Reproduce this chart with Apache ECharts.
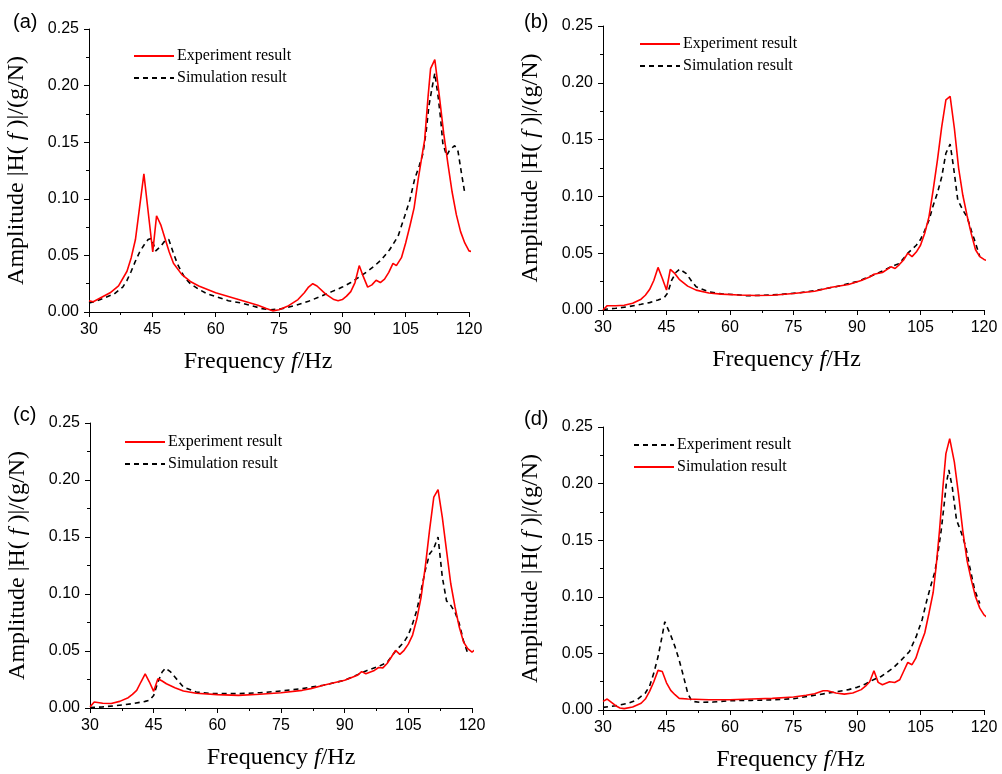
<!DOCTYPE html>
<html>
<head>
<meta charset="utf-8">
<script src="https://cdn.jsdelivr.net/npm/echarts@6/dist/echarts.min.js"></script>
<style>
  html, body { margin: 0; padding: 0; background: #fff; }
  #chart { width: 1002px; height: 774px; }
</style>
</head>
<body>
<div id="chart"></div>
<script>
// frequency (Hz) / amplitude pairs
const aExp = [[30,0.010],[31,0.009],[33,0.013],[35,0.017],[37,0.023],[39,0.036],[40,0.048],[41,0.064],[42,0.093],[43,0.122],[44,0.089],[45.1,0.053],[46,0.085],[47,0.077],[48,0.065],[49,0.053],[50,0.043],[52,0.033],[54,0.027],[56,0.023],[60,0.017],[65,0.0115],[70,0.006],[72,0.003],[73.5,0.001],[75,0.002],[77,0.005],[79.5,0.011],[81,0.017],[82,0.022],[83,0.025],[84,0.023],[86,0.016],[88,0.011],[89,0.010],[90,0.011],[91,0.014],[92,0.018],[93,0.026],[94,0.041],[95,0.031],[96,0.022],[97,0.024],[98,0.028],[99,0.026],[100,0.029],[101,0.035],[102,0.043],[102.8,0.041],[104,0.048],[105,0.061],[106,0.076],[107,0.092],[108,0.118],[109,0.141],[109.5,0.152],[110.3,0.190],[110.9,0.215],[111.9,0.223],[113,0.190],[114,0.158],[115,0.131],[116,0.106],[117,0.086],[118,0.071],[119,0.061],[120,0.054],[121,0.053]];
const aSim = [[30,0.008],[32,0.010],[34,0.013],[36,0.016],[38,0.022],[39,0.028],[40,0.036],[41,0.045],[42,0.053],[43,0.059],[44,0.064],[44.8,0.065],[45.8,0.054],[47,0.058],[48,0.063],[48.9,0.064],[50,0.052],[51,0.042],[52.7,0.030],[54,0.025],[56,0.020],[58,0.016],[60.5,0.013],[63,0.010],[66,0.008],[69,0.005],[71,0.003],[73,0.002],[75,0.0025],[76.5,0.0035],[79,0.006],[82,0.0095],[85,0.014],[87.5,0.018],[90,0.022],[92,0.026],[94,0.031],[96,0.036],[98,0.042],[99.2,0.046],[101.2,0.055],[103.2,0.067],[104.8,0.085],[106,0.099],[107.1,0.117],[108.2,0.129],[109.1,0.140],[109.9,0.161],[110.5,0.182],[111.3,0.199],[111.9,0.211],[112.7,0.190],[113.3,0.170],[113.8,0.149],[114.7,0.138],[115.4,0.143],[116.6,0.147],[117.4,0.142],[118.2,0.123],[119,0.105]];

const bExp = [[30,0.000],[31,0.0038],[33,0.0038],[35,0.0042],[37,0.006],[39,0.0095],[40,0.013],[41,0.018],[42,0.026],[43,0.0375],[44,0.028],[45,0.0176],[45.9,0.0358],[47,0.032],[48,0.027],[50,0.021],[52,0.0175],[55,0.015],[58,0.014],[62,0.0132],[66,0.0127],[70,0.013],[75,0.0145],[80,0.0165],[84,0.020],[88,0.0225],[91,0.026],[93,0.029],[94,0.0315],[96,0.033],[98,0.038],[99,0.0365],[100,0.040],[101,0.044],[102,0.050],[103,0.047],[104,0.051],[105,0.057],[106,0.0675],[107,0.082],[108,0.106],[109,0.132],[110,0.161],[111,0.185],[112,0.188],[113,0.160],[114,0.125],[115,0.101],[116,0.083],[117,0.067],[118,0.053],[119,0.047],[120,0.0445],[121,0.043]];
const bSim = [[30,0.0005],[33,0.0015],[36,0.003],[39,0.005],[41,0.0065],[43,0.0088],[44.5,0.011],[45.3,0.015],[46.2,0.026],[47.2,0.033],[48.1,0.036],[49.7,0.032],[51,0.025],[52,0.0205],[55,0.016],[58,0.0142],[61,0.0136],[64,0.0125],[68,0.013],[72,0.0137],[76,0.015],[80,0.017],[85,0.0205],[90,0.025],[95,0.0325],[98,0.038],[100,0.041],[102,0.050],[104,0.057],[105,0.062],[106,0.070],[107,0.079],[108,0.092],[109,0.103],[110,0.117],[111,0.138],[112,0.146],[112.8,0.126],[113.8,0.097],[115,0.088],[116,0.082],[117,0.070],[118,0.059],[119,0.047]];

const cExp = [[30,0.001],[31,0.0053],[33,0.0042],[35,0.004],[37,0.0058],[39,0.009],[40,0.012],[41,0.0155],[42,0.0228],[43,0.030],[44,0.0228],[45,0.0146],[46,0.0257],[47,0.0237],[48,0.0213],[50,0.0178],[52,0.0149],[55,0.0129],[60,0.0117],[65,0.0111],[70,0.012],[75,0.0134],[80,0.0155],[82,0.017],[85,0.020],[90,0.0243],[93,0.0287],[94,0.0319],[95,0.0301],[97,0.033],[98,0.0355],[99,0.0352],[100,0.039],[101,0.0447],[102,0.0506],[103,0.047],[104,0.0506],[105,0.056],[106,0.064],[107,0.078],[108,0.097],[109,0.124],[110,0.156],[111,0.185],[111.3,0.187],[112,0.1915],[113,0.1675],[114,0.138],[115,0.109],[116,0.0886],[117,0.071],[118,0.058],[119,0.052],[120,0.049],[121,0.052]];
const cSim = [[30,0.0003],[33,0.001],[36,0.002],[40,0.0038],[43,0.0058],[44,0.0067],[45,0.011],[46,0.0228],[47,0.0316],[47.8,0.035],[49,0.0316],[50,0.0272],[52,0.0184],[55,0.014],[58,0.0129],[60,0.0126],[65,0.0126],[70,0.0134],[75,0.0149],[80,0.017],[85,0.020],[90,0.0243],[95,0.0325],[98,0.0365],[100,0.040],[102,0.050],[104,0.058],[105,0.064],[106,0.074],[107,0.0857],[108,0.103],[109,0.121],[110,0.135],[111,0.140],[112,0.150],[113,0.115],[114,0.094],[115,0.090],[116,0.084],[117,0.074],[118,0.059],[119,0.048]];

// panel (d): experiment is the dashed curve, simulation the red one
const dExp = [[30,0.0023],[33,0.0038],[36,0.006],[38,0.009],[40,0.015],[41,0.021],[42,0.0326],[43,0.047],[44,0.066],[44.6,0.078],[45,0.0767],[46,0.066],[47,0.056],[48,0.044],[49,0.030],[50,0.015],[51,0.0076],[53,0.0068],[56,0.007],[60,0.0082],[65,0.0085],[70,0.009],[75,0.010],[80,0.013],[85,0.016],[88,0.018],[90,0.020],[92,0.023],[94,0.027],[95.7,0.0296],[98.5,0.037],[100.5,0.0443],[102.4,0.0517],[104,0.065],[105.4,0.080],[106.5,0.097],[107.6,0.112],[108.4,0.122],[109.1,0.138],[109.9,0.159],[110.6,0.182],[111.1,0.200],[111.7,0.212],[112.5,0.197],[113.5,0.168],[114.7,0.156],[115.7,0.144],[116.6,0.127],[117.8,0.106],[119,0.094]];
const dSim = [[30,0.0076],[31,0.0097],[32,0.0068],[33,0.0038],[34,0.0018],[35,0.0012],[37,0.0026],[39,0.006],[40,0.0097],[41,0.0165],[42,0.025],[43,0.035],[44,0.034],[45,0.024],[46,0.0173],[47,0.0135],[48,0.0103],[50,0.0097],[55,0.0091],[60,0.0091],[65,0.0097],[70,0.0103],[75,0.0115],[78,0.013],[80,0.0144],[82,0.017],[83,0.017],[85,0.015],[87,0.014],[89,0.015],[91,0.018],[92,0.021],[93,0.025],[94,0.0347],[95,0.0244],[96,0.0223],[97.7,0.025],[98.9,0.0243],[100.1,0.0267],[101,0.034],[102,0.042],[103,0.040],[103.9,0.0458],[104.8,0.056],[106,0.068],[107,0.0855],[108,0.104],[108.7,0.127],[109.5,0.159],[110.3,0.197],[111,0.2265],[111.9,0.2397],[113,0.219],[114,0.190],[115,0.158],[116,0.132],[117,0.115],[118,0.100],[119,0.090],[120,0.084],[121,0.081]];

const panelLabels = ['(a)', '(b)', '(c)', '(d)'];
const xTicks = { min: 30, max: 120, interval: 15 };
const yTicks = { min: 0, max: 0.25, interval: 0.05 };

const SERIF = '"Liberation Serif", "Times New Roman", serif';
const SANS = '"Liberation Sans", Arial, sans-serif';
const RED = '#ff0000';

// plot boxes and text placement per panel
const panels = [
  { grid: { left: 89, top: 29, width: 380, height: 283 }, label: [8, 7], legend: [133, 48], xPad: 42,
    series: [['Experiment result', aExp, 'solid'], ['Simulation result', aSim, 'dashed']] },
  { grid: { left: 603, top: 26, width: 381, height: 284 }, label: [519, 7], legend: [639, 36], xPad: 14,
    series: [['Experiment result', bExp, 'solid'], ['Simulation result', bSim, 'dashed']] },
  { grid: { left: 90, top: 423, width: 382, height: 285 }, label: [8, 400], legend: [124, 434], xPad: 0,
    series: [['Experiment result', cExp, 'solid'], ['Simulation result', cSim, 'dashed']] },
  { grid: { left: 603, top: 427, width: 381, height: 283 }, label: [519, 404], legend: [633, 437], xPad: 6,
    series: [['Experiment result', dExp, 'dashed'], ['Simulation result', dSim, 'solid']] },
];

const nameRich = {
  n: { fontFamily: SERIF, fontSize: 24, color: '#000' },
  i: { fontFamily: SERIF, fontSize: 24, fontStyle: 'italic', color: '#000' },
};

const option = {
  animation: false,
  backgroundColor: '#fff',
  title: panels.map((p, k) => ({
    text: panelLabels[k], left: p.label[0], top: p.label[1],
    textStyle: { fontFamily: SANS, fontSize: 20, fontWeight: 'normal', color: '#000' },
  })),
  grid: panels.map(p => p.grid),
  legend: panels.map((p, k) => ({
    orient: 'vertical', left: p.legend[0], top: p.legend[1],
    itemWidth: 40, itemHeight: 14, itemGap: 6, padding: 0,
    data: p.series.map((s, j) => 'p' + k + '_' + j),
    formatter: name => panels[+name[1]].series[+name[3]][0],
    itemStyle: { opacity: 0, borderWidth: 0 },
    textStyle: { fontFamily: SERIF, fontSize: 16, color: '#000', padding: [0, 0, 0, -2] },
    selectedMode: false,
  })),
  xAxis: panels.map((p, k) => ({
    gridIndex: k, type: 'value', ...xTicks,
    name: '{n|Frequency }{i|f}{n|/Hz}', nameLocation: 'middle', nameGap: 38,
    nameTextStyle: { rich: nameRich, padding: [0, p.xPad, 0, 0] },
    axisLine: { show: true, lineStyle: { color: '#000', width: 1 } },
    axisTick: { show: true, inside: false, length: 5, lineStyle: { color: '#000' } },
    minorTick: { show: true, splitNumber: 2, length: 3, lineStyle: { color: '#000' } },
    splitLine: { show: false },
    axisLabel: { fontFamily: SANS, fontSize: 16, color: '#000', margin: 10 },
  })),
  yAxis: panels.map((p, k) => ({
    gridIndex: k, type: 'value', ...yTicks,
    name: '{n|Amplitude |H( }{i|f}{n| )|/(g/N)}', nameLocation: 'middle', nameGap: 60, nameRotate: 90,
    nameTextStyle: { rich: nameRich },
    axisLine: { show: true, lineStyle: { color: '#000', width: 1 } },
    axisTick: { show: true, inside: false, length: 5, lineStyle: { color: '#000' } },
    minorTick: { show: true, splitNumber: 2, length: 3, lineStyle: { color: '#000' } },
    splitLine: { show: false },
    axisLabel: { fontFamily: SANS, fontSize: 16, color: '#000', margin: 10, formatter: v => v.toFixed(2) },
  })),
  series: panels.flatMap((p, k) => p.series.map((s, j) => ({
    name: 'p' + k + '_' + j,
    type: 'line', xAxisIndex: k, yAxisIndex: k,
    data: s[1], symbol: 'none', showSymbol: false, clip: false,
    lineStyle: s[2] === 'solid'
      ? { color: RED, width: 1.6, type: 'solid' }
      : { color: '#000', width: 1.6, type: [5, 4] },
    itemStyle: { color: s[2] === 'solid' ? RED : '#000' },
    z: s[2] === 'solid' ? 3 : 2,
  }))),
};

const chart = echarts.init(document.getElementById('chart'));
chart.setOption(option);
</script>
</body>
</html>
